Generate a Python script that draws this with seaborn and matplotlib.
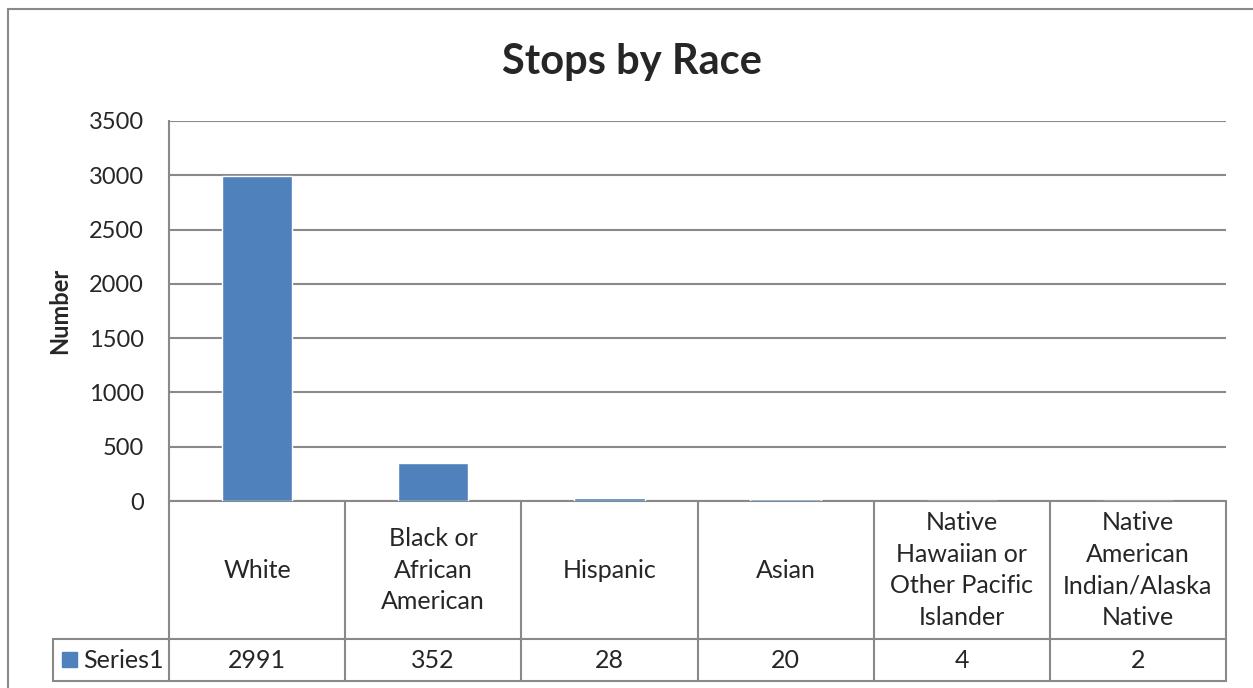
import matplotlib
matplotlib.use("Agg")
import matplotlib.pyplot as plt
import matplotlib.transforms as mtransforms
from matplotlib.lines import Line2D
from matplotlib.patches import Rectangle
import seaborn as sns
import pandas as pd

categories = ["White", "Black or\nAfrican\nAmerican", "Hispanic", "Asian",
              "Native\nHawaiian or\nOther Pacific\nIslander",
              "Native\nAmerican\nIndian/Alaska\nNative"]
values = [2991, 352, 28, 20, 4, 2]
series_name = "Series1"
yticks = [0, 500, 1000, 1500, 2000, 2500, 3000, 3500]

W, H = 1253, 688
bar_color = "#4F81BD"
line_gray = "#898989"

sns.set_style("white")
plt.rcParams["font.family"] = ["Lato", "DejaVu Sans"]

fig = plt.figure(figsize=(W / 100, H / 100), dpi=100)
ax = fig.add_axes([169 / W, 1 - 501 / H, (1226 - 169) / W, (501 - 121) / H])

df = pd.DataFrame({"cat": categories, "val": values})
sns.barplot(data=df, x="cat", y="val", color=bar_color, width=0.4,
            saturation=1, ax=ax, zorder=3)

ax.set_ylim(0, 3500)
ax.set_xlim(-0.5, len(categories) - 0.5)
ax.set_yticks(yticks)
ax.set_yticklabels([str(t) for t in yticks], fontsize=17)
ax.tick_params(axis="y", length=0, pad=18)
ax.set_xticks([])
ax.set_xlabel("")
ax.set_ylabel("")
ax.yaxis.grid(True, color=line_gray, linewidth=1.5)
ax.set_axisbelow(True)
for side in ["top", "right", "bottom"]:
    ax.spines[side].set_visible(False)
ax.spines["left"].set_color(line_gray)
ax.spines["left"].set_linewidth(1.5)

fig.text(632 / W, 1 - 62 / H, "Stops by Race", fontsize=30, fontweight="bold",
         ha="center", va="center")
fig.text(60 / W, 1 - 311 / H, "Number", fontsize=17, fontweight="bold",
         rotation=90, ha="center", va="center")

# data table below the plot (x in data units, y in axes fraction)
trans = mtransforms.blended_transform_factory(ax.transData, ax.transAxes)
y_top, y_mid, y_bot = 0.0, -(639 - 501) / 380, -(681 - 501) / 380
n = len(categories)
lw = 1.5
for i in range(n + 1):
    ax.add_line(Line2D([i - 0.5, i - 0.5], [y_top, y_bot], transform=trans,
                       color=line_gray, lw=lw, clip_on=False))
ax.add_line(Line2D([-0.5, n - 0.5], [y_top, y_top], transform=trans,
                   color=line_gray, lw=lw, clip_on=False, zorder=2))
for yy in [y_mid, y_bot]:
    fig.add_artist(Line2D([53 / W, 1226 / W], [1 - (501 - yy * 380) / H] * 2,
                          color=line_gray, lw=lw))
fig.add_artist(Line2D([53 / W, 53 / W], [1 - 639 / H, 1 - 681 / H],
                      color=line_gray, lw=lw))

for i, (c, v) in enumerate(zip(categories, values)):
    ax.text(i, (y_top + y_mid) / 2, c, transform=trans, ha="center",
            va="center", fontsize=18, linespacing=1.45)
    ax.text(i, (y_mid + y_bot) / 2, str(v), transform=trans, ha="center",
            va="center", fontsize=18)

fig.add_artist(Rectangle((62 / W, 1 - 667 / H), 15 / W, 15 / H,
                         color=bar_color))
fig.text(83 / W, 1 - 660 / H, series_name, fontsize=18, ha="left",
         va="center")

# outer chart border
fig.add_artist(Line2D([8 / W, 8 / W], [1 - 9 / H, 0], color=line_gray, lw=1.5))
fig.add_artist(Line2D([8 / W, 1], [1 - 9 / H, 1 - 9 / H], color=line_gray,
                      lw=1.5))

fig.savefig("out.png", dpi=100)
